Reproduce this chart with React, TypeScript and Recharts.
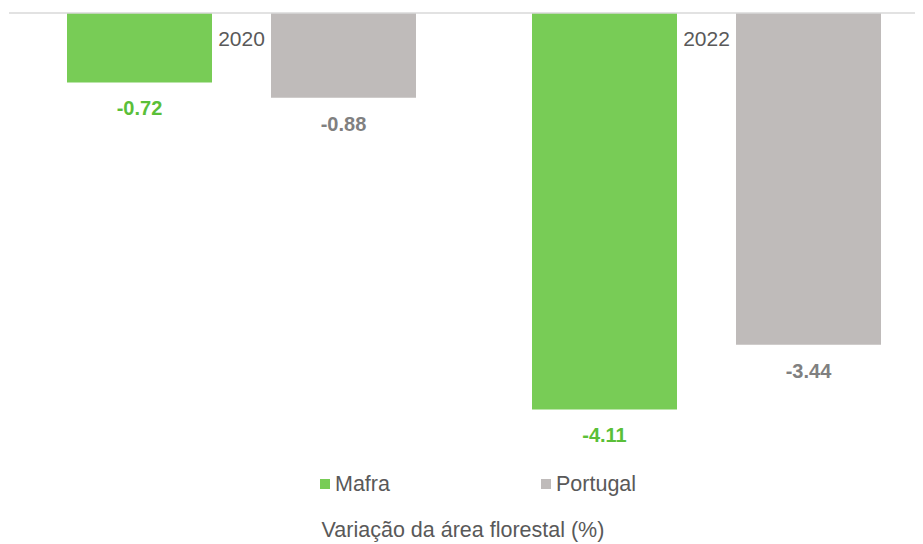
import { Bar, BarChart, LabelList, ReferenceLine, XAxis, YAxis } from "recharts";

const YEARS = ["2020", "2022"];
const MAFRA = [-0.72, -4.11];
const PORTUGAL = [-0.88, -3.44];

const GREEN = "#78cc56";
const GREEN_TEXT = "#5abf38";
const GRAY = "#bfbbba";
const GRAY_TEXT = "#808080";
const TEXT = "#595959";
const FONT = "'Liberation Sans', Arial, sans-serif";

const chartData = YEARS.map((year, i) => ({
  year,
  mafra: MAFRA[i],
  portugal: PORTUGAL[i],
}));

const fmt = (v: number) => v.toFixed(2);

function YearTick({ x, payload }: { x?: number; payload?: { value: string } }) {
  return (
    <text
      x={x}
      y={30}
      textAnchor="middle"
      dominantBaseline="central"
      fill={TEXT}
      fontSize={21}
      fontFamily={FONT}
    >
      {payload?.value}
    </text>
  );
}

function makeLabel(color: string) {
  return (props: any) => {
    const { x, y, width, height, value } = props;
    const bottom = Math.max(Number(y), Number(y) + Number(height));
    return (
      <text
        x={Number(x) + Number(width) / 2}
        y={bottom + 26}
        textAnchor="middle"
        dominantBaseline="central"
        fill={color}
        fontSize={20}
        fontWeight="bold"
        fontFamily={FONT}
      >
        {fmt(Number(value))}
      </text>
    );
  };
}

function LegendItem({ left, color, label }: { left: number; color: string; label: string }) {
  return (
    <div
      style={{
        position: "absolute",
        left,
        top: 464,
        height: 24,
        display: "flex",
        alignItems: "center",
        gap: 5,
        fontSize: 21.5,
        color: TEXT,
        fontFamily: FONT,
      }}
    >
      <span style={{ display: "inline-block", width: 10, height: 10, background: color }} />
      <span>{label}</span>
    </div>
  );
}

export default function App() {
  return (
    <div
      style={{
        position: "relative",
        width: 915,
        height: 536,
        overflow: "hidden",
        background: "#fff",
        fontFamily: FONT,
      }}
    >
      <BarChart
        width={931}
        height={440}
        data={chartData}
        margin={{ top: 4, right: 0, left: 1, bottom: 1 }}
        barCategoryGap={58}
        barGap={59}
      >
        <XAxis
          dataKey="year"
          orientation="top"
          height={1}
          tickLine={false}
          tickSize={0}
          axisLine={false}
          tick={<YearTick />}
          interval={0}
        />
        <YAxis hide domain={[-4.5, 0]} />
        <Bar dataKey="mafra" fill={GREEN} isAnimationActive={false}>
          <LabelList dataKey="mafra" content={makeLabel(GREEN_TEXT)} />
        </Bar>
        <Bar dataKey="portugal" fill={GRAY} isAnimationActive={false}>
          <LabelList dataKey="portugal" content={makeLabel(GRAY_TEXT)} />
        </Bar>
        <ReferenceLine y={0} stroke="#d9d9d9" strokeWidth={1.5} />
      </BarChart>

      <LegendItem left={312} color={GREEN} label="Mafra" />
      <LegendItem left={533} color={GRAY} label="Portugal" />

      <div
        style={{
          position: "absolute",
          left: 0,
          width: 910,
          top: 510,
          lineHeight: "24px",
          textAlign: "center",
          fontSize: 21.5,
          color: TEXT,
        }}
      >
        Variação da área florestal (%)
      </div>
    </div>
  );
}
